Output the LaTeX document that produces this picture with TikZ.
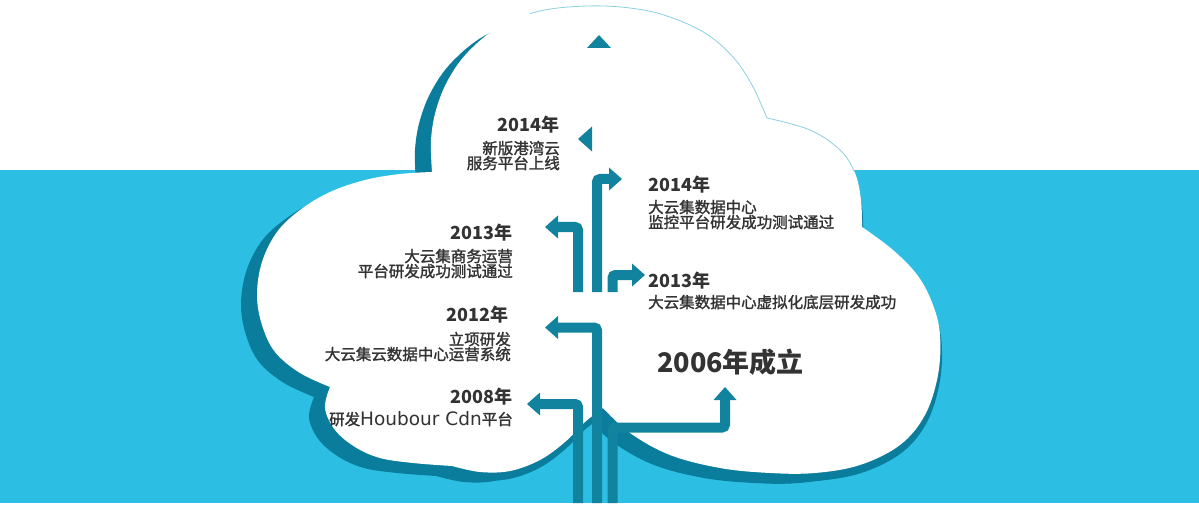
\documentclass[tikz,border=0pt]{standalone}
\usepackage{fontspec}
\setmainfont{Noto Sans CJK SC}
\newfontfamily\descfont{Noto Sans CJK SC}[FakeBold=1.6]
\newfontfamily\latinfont{DejaVu Sans}
\usetikzlibrary{arrows.meta}

\definecolor{skyband}{HTML}{2DBFE3}
\definecolor{branchteal}{HTML}{12839F}
\definecolor{cloudshade}{HTML}{0A7C9C}
\definecolor{cloudline}{HTML}{8CCFE2}
\definecolor{ink}{HTML}{333333}

% outline of the cloud, lobe by lobe
\def\cloudoutline{plot[smooth,tension=0.6] coordinates {(432,172) (431,140) (436,110) (448,80) (468,52) (500,26) (540,11) (587,6) (630,8) (667,16) (705,33) (733,57) (752,85) (767,118)}
 -- plot[smooth,tension=0.6] coordinates {(767,118) (810,130) (840,150) (855,173) (861,200) (862,227)}
 -- plot[smooth,tension=0.6] coordinates {(862,227) (893,250) (918,276) (933,305) (940,335) (938,375) (925,415) (900,445) (860,465) (815,473) (770,473) (720,468) (670,455) (630,433) (603,408)}
 -- plot[smooth,tension=0.6] coordinates {(603,408) (585,422) (565,442) (540,460) (510,471) (480,472) (452,466)}
 -- plot[smooth,tension=0.6] coordinates {(452,466) (413,463) (380,458) (355,447) (335,430) (325,408) (330,387)}
 -- plot[smooth,tension=0.6] coordinates {(330,387) (300,373) (275,352) (262,325) (257,295) (262,262) (277,232) (300,210) (330,192) (365,180) (400,174) (432,172)}
 -- cycle}

\tikzset{
  branchline/.style={draw=branchteal, line width=10pt, rounded corners=3pt,
    -{Triangle[width=23pt,length=13pt,line width=0pt]}},
  yearlabel/.style={text=ink, inner sep=0pt, font=\bfseries\fontsize{18}{18}\selectfont},
  desclabel/.style={text=ink, inner sep=0pt, font=\descfont\fontsize{15.5}{15}\selectfont},
}

\begin{document}
\begin{tikzpicture}[x=1pt,y=-1pt]
\useasboundingbox (0,0) rectangle (1199,505);

% background bands
\fill[white] (0,0) rectangle (1199,505);
\fill[skyband] (0,170) rectangle (1199,503);

% cloud with its shadow
\fill[cloudshade, shift={(-16,10)}] \cloudoutline;
\fill[cloudshade, shift={(-4,8)}, xscale=1.006] \cloudoutline;
\fill[white] \cloudoutline;
\begin{scope}
\clip (530,0) rectangle (1199,172);
\draw[cloudline, line width=0.8pt] \cloudoutline;
\end{scope}

% branches of the tree
\coordinate (foot14r) at (597,292);   \coordinate (tip14r) at (622,179);
\coordinate (foot13l) at (578,292);   \coordinate (tip13l) at (545,227);
\coordinate (foot13r) at (612.5,292); \coordinate (tip13r) at (645,275);
\coordinate (foot12) at (597,503);    \coordinate (tip12) at (545,327.5);
\coordinate (foot08) at (578,503);    \coordinate (tip08) at (527,404);
\coordinate (foot06) at (612.5,503);  \coordinate (knee06) at (725,427.5);
\coordinate (tip06) at (725,387);

\draw[branchline] (foot14r) |- (tip14r);
\draw[branchline] (foot13l) |- (tip13l);
\draw[branchline] (foot13r) |- (tip13r);
\draw[branchline] (foot12) |- (tip12);
\draw[branchline] (foot08) |- (tip08);
\draw[branchline] (foot06) |- (knee06) -- (tip06);

% loose arrow heads at the top
\coordinate (tipup) at (599,35);
\coordinate (tipleft) at (578,139);
\fill[branchteal] (tipup) -- (611,48) -- (587,48) -- cycle;
\fill[branchteal] (tipleft) -- (592,126.5) -- (592,151.5) -- cycle;

% milestones
\node[yearlabel, anchor=base east] (y14l) at (560,132) {2014年};
\node[desclabel, anchor=base east, align=right] (d14l) at (560,169) {新版港湾云\\服务平台上线};

\node[yearlabel, anchor=base west] (y14r) at (648,192) {2014年};
\node[desclabel, anchor=base west, align=left] (d14r) at (648,228) {大云集数据中心\\监控平台研发成功测试通过};

\node[yearlabel, anchor=base east] (y13l) at (513,239) {2013年};
\node[desclabel, anchor=base east, align=right] (d13l) at (513,277) {大云集商务运营\\平台研发成功测试通过};

\node[yearlabel, anchor=base west] (y13r) at (648,287) {2013年};
\node[desclabel, anchor=base west] (d13r) at (648,308) {大云集数据中心虚拟化底层研发成功};

\node[yearlabel, anchor=base east] (y12) at (509,321) {2012年};
\node[desclabel, anchor=base east, align=right] (d12) at (511,360) {立项研发\\大云集云数据中心运营系统};

\node[yearlabel, anchor=base east] (y08) at (513,403) {2008年};
\node[desclabel, anchor=base east] (d08) at (513,425) {研发{\latinfont\fontsize{18.5}{15}\selectfont Houbour Cdn}平台};

\node[text=ink, inner sep=0pt, anchor=base west, font=\bfseries\fontsize{27}{27}\selectfont] (y06) at (657,372) {2006年成立};
\end{tikzpicture}
\end{document}
